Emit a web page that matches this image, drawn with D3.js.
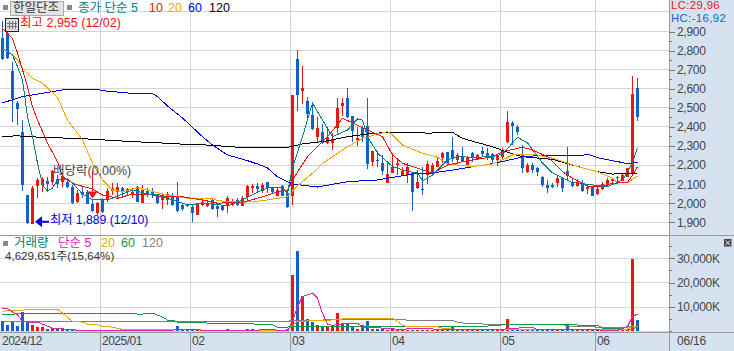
<!DOCTYPE html>
<html lang="ko">
<head>
<meta charset="UTF-8" />
<title>한일단조</title>
<script src="https://d3js.org/d3.v7.min.js"></script>
<style>
  body { margin: 0; padding: 0; background: #fff; overflow: hidden; }
  svg { display: block; }
  text { font-family: "Liberation Sans", "Noto Sans CJK KR", sans-serif; font-size: 12px; }
  .axis text { font-size: 12px; fill: #444; letter-spacing: -0.3px; }
  .axis line { stroke: #777; shape-rendering: crispEdges; }
  .axis path { display: none; }
  .date { letter-spacing: -0.5px; }
  .ma { fill: none; stroke-width: 1; shape-rendering: crispEdges; }
</style>
</head>
<body>
<div id="chart"></div>
<script>
const opens = [
  2868,2893,2693,2525,2375,2043,1889,2092,2095,2116,
  2113,2127,2113,2113,2086,2008,2057,2060,1994,1947,
  2016,2016,2064,2060,2081,2074,2043,2083,1999,2064,
  2065,2043,2016,2016,2043,2034,1990,1990,1981,1938,
  1990,1985,2016,1985,1985,1985,1990,2016,1987,2031,
  2082,2092,2066,2110,2082,2040,2090,2052,2040,2756,
  2589,2536,2463,2349,2372,2314,2318,2393,2512,2550,
  2457,2332,2393,2405,2214,2227,2209,2108,2160,2200,
  2148,2148,2157,2078,2075,2148,2153,2192,2239,2267,
  2279,2227,2246,2200,2262,2232,2274,2262,2257,2227,
  2241,2323,2423,2402,2253,2166,2201,2187,2140,2096,
  2094,2108,2131,2169,2113,2091,2108,2075,2084,2047,
  2073,2096,2117,2136,2119,2140,2157,2603];
const closes = [
  2756,2762,2545,2494,2095,1894,2078,2121,2125,2100,
  2169,2099,2142,2086,1999,2055,2043,1996,1961,1999,
  1955,2064,2081,2086,2057,2060,2060,2008,2069,2048,
  2043,1999,2043,2048,1990,1961,1968,1985,1947,1999,
  2008,2002,1968,1968,1964,2025,2011,1990,2029,2092,
  2092,2073,2096,2082,2061,2069,2040,1979,2568,2568,
  2603,2468,2388,2393,2314,2346,2335,2498,2526,2450,
  2381,2344,2346,2204,2274,2221,2171,2152,2192,2209,
  2169,2188,2061,2110,2069,2204,2200,2221,2262,2206,
  2232,2251,2223,2244,2241,2253,2256,2244,2227,2248,
  2271,2426,2407,2372,2187,2201,2174,2166,2096,2078,
  2087,2131,2078,2143,2092,2113,2066,2084,2040,2075,
  2101,2120,2127,2131,2150,2183,2573,2454];
const highs = [
  2955,2920,2742,2536,2436,2043,2090,2130,2139,2135,
  2174,2148,2156,2130,2095,2069,2086,2069,2016,2008,
  2025,2078,2104,2104,2086,2081,2078,2090,2095,2078,
  2078,2048,2048,2060,2055,2113,1999,1996,1990,2002,
  2016,2016,2025,1999,1990,2037,2020,2030,2037,2096,
  2101,2108,2104,2113,2087,2083,2094,2069,2568,2804,
  2720,2559,2524,2450,2415,2393,2367,2550,2550,2603,
  2457,2398,2405,2550,2274,2274,2253,2209,2265,2235,
  2192,2209,2166,2174,2188,2223,2213,2241,2270,2270,
  2346,2262,2293,2248,2267,2256,2297,2288,2262,2258,
  2288,2484,2431,2410,2306,2209,2209,2192,2143,2122,
  2108,2143,2134,2297,2131,2126,2122,2091,2087,2087,
  2113,2131,2134,2145,2157,2187,2667,2659];
const lows = [
  2750,2755,2427,2410,2065,1889,1889,2029,2060,2069,
  2095,2078,2086,2078,1996,1999,2025,1994,1955,1938,
  1950,2008,2043,2025,2025,2043,2025,2004,1999,2034,
  2025,1996,1968,1990,1985,1955,1961,1978,1903,1938,
  1985,1981,1964,1929,1961,1950,1985,1985,1985,2017,
  2055,2055,2055,2055,2052,2040,2036,1973,1991,2485,
  2520,2445,2384,2314,2311,2311,2279,2367,2457,2445,
  2323,2302,2323,2180,2197,2192,2148,2108,2157,2148,
  2148,2104,1961,2073,2043,2101,2148,2188,2209,2202,
  2218,2206,2223,2200,2218,2227,2248,2227,2209,2195,
  2230,2318,2306,2358,2157,2157,2157,2145,2084,2056,
  2078,2084,2061,2122,2087,2087,2061,2049,2038,2043,
  2070,2092,2101,2101,2117,2136,2148,2433];
const volumes = [
  4370,2730,3690,2320,7920,4370,2730,1640,1640,1090,
  1370,1370,1090,820,820,700,700,700,650,650,
  650,600,600,600,600,600,600,600,1090,600,
  600,600,600,600,600,2050,700,700,650,600,
  600,600,600,600,600,1090,650,600,600,960,
  960,700,700,700,650,700,650,800,23200,33000,
  14600,5200,3800,2730,2050,2050,1640,7650,3400,3400,
  1640,1090,2460,4100,1090,1090,1370,680,960,960,
  650,650,650,650,650,650,650,650,650,650,
  2050,650,650,650,650,650,650,650,650,650,
  650,5200,650,650,650,650,650,650,650,650,
  650,650,650,3140,650,650,650,650,650,650,
  650,650,650,650,650,650,29800,4630];

// moving averages: index along the candles, then value
const ma5Idx = [0,2,3,4,5,6,7,8,9,10,11,13,14,15,16,18,21,24,26,29,31,33,37,41,45,48,51,53,56,57,58,60,62,64,66,69,71,72,73,75,78,81,83,84,86,89,91,94,98,100,102,103,105,108,110,114,118,121,124,126,127];
const ma5Val = [2814,2777,2716,2646,2454,2349,2211,2096,2064,2080,2122,2127,2106,2078,2048,2017,2017,2048,2069,2048,2048,2026,1991,2001,1986,2017,2058,2080,2080,2053,2185,2349,2526,2436,2349,2384,2442,2436,2349,2263,2192,2166,2159,2117,2148,2227,2244,2241,2244,2258,2316,2346,2316,2211,2159,2108,2096,2087,2122,2211,2292];
const ma10Idx = [0,2,3,5,6,7,9,11,12,14,15,18,20,23,26,29,32,35,40,43,48,52,55,57,59,61,65,68,70,73,76,78,80,82,86,89,92,98,100,104,106,109,112,114,117,120,122,125,126,127];
const ma10Val = [2917,2865,2788,2611,2506,2436,2316,2218,2139,2106,2096,2075,2043,2026,2048,2048,2033,2038,2017,2000,2006,2033,2060,2069,2165,2244,2349,2445,2422,2384,2349,2253,2209,2192,2157,2200,2218,2244,2271,2293,2279,2244,2165,2131,2090,2087,2105,2108,2148,2192];
const ma20Idx = [0,2,3,4,6,8,10,11,13,16,18,20,22,24,27,33,37,42,43,48,52,57,59,62,64,69,72,75,77,78,80,84,87,89,94,98,100,102,106,110,115,119,122,123,125,127];
const ma20Val = [2812,2777,2751,2708,2655,2629,2580,2555,2436,2332,2211,2122,2069,2060,2081,2043,2026,2026,2013,2005,2013,2034,2092,2157,2209,2296,2340,2363,2375,2358,2305,2262,2241,2206,2192,2206,2227,2253,2258,2236,2192,2165,2131,2108,2108,2143];
const ma60Idx = [0,4,12,16,19,20,26,30,31,33,36,40,42,45,49,51,53,55,58,63,69,75,82,86,90,98,102,104,108,116,117,119,124,125,127];
const ma60Val = [2526,2559,2594,2597,2597,2590,2576,2574,2559,2510,2447,2349,2305,2253,2223,2206,2185,2138,2101,2085,2113,2122,2153,2159,2174,2208,2230,2244,2251,2251,2257,2239,2213,2207,2215];
const ma120Idx = [0,3,5,8,17,26,31,35,41,48,57,60,64,69,73,77,84,85,87,90,92,98,102,104,110,114,119,122,127];
const ma120Val = [2349,2354,2349,2346,2337,2323,2317,2311,2305,2292,2293,2311,2323,2349,2363,2372,2372,2365,2372,2372,2340,2296,2258,2244,2230,2200,2165,2153,2157];

const vol5Idx = [0,1,2,3,4,5,7,8,10,11,14,15,25,34,35,39,40,48,51,52,54,55,57,58,59,60,62,63,64,65,66,69,71,72,75,76,78,79,80,81,100,101,103,104,106,107,117,123,125,126,127];
const vol5Val = [9560,9290,7920,6830,4100,3820,3820,3000,1370,1090,820,410,410,410,960,960,410,410,410,960,960,410,410,4100,10250,14340,15710,13660,7510,3000,2460,3400,3400,1780,1780,1230,1230,680,680,1090,680,1230,1230,1780,1780,680,680,410,2050,6150,7100];
const vol20Idx = [0,1,4,5,11,12,14,16,17,19,20,22,23,24,26,48,57,58,59,62,67,69,78,79,80,81,87,88,89,90,97,100,101,125,126,127];
const vol20Val = [8200,8600,8600,9150,9150,7510,4100,3820,3000,2730,1910,1780,1230,820,820,410,410,2460,4100,4370,4780,5460,5460,4100,2460,1910,1910,1370,1370,960,680,680,960,960,2050,2050];
const vol60Idx = [0,26,27,28,29,30,32,33,34,35,40,41,48,52,54,55,57,58,97,102,112,115,119,120,123,124,126,127];
const vol60Val = [7100,7510,7100,7100,7510,7510,5870,4640,4640,3820,3820,3410,3410,2730,2730,1780,1780,2050,2190,3000,3000,2600,2600,1370,1370,960,960,1780];
const vol120Idx = [0,57,58,78,80,81,90,91,93,97,112,113,118,119,125,127];
const vol120Val = [4100,4100,4510,5050,5050,4510,4510,3820,3140,3000,3000,2050,2050,1640,1780,2050];

const priceTicks = [1900,2000,2100,2200,2300,2400,2500,2600,2700,2800,2900];
const priceGridTop = 3005;
const priceMinor = [1950,2050,2150,2250,2350,2450,2550,2650,2750,2850];
const volTicks = [10000,20000,30000];
const volMinor = [0,5000,15000,25000,35000];
const dateLabels = ["2024/12","2025/01","02","03","04","05","06"];
const dateIndex = [0,20,38,58,78,100,119];

const width = 734, height = 351;
const plotRight = 669, stripTop = 332;
const RED = "#e8170f", BLUE = "#1560c8";

const svg = d3.select("#chart").append("svg").attr("width", width).attr("height", height);

const x = d3.scaleBand().domain(d3.range(128)).range([0, 640]);
const y = d3.scaleLinear().domain([1900, 2900]).range([222.3, 31.6]);
const yVol = d3.scaleLinear().domain([0, 30000]).range([331.4, 258.3]);

// right hand and bottom strips
svg.append("rect").attr("x", plotRight).attr("y", 0).attr("width", width - plotRight).attr("height", height).attr("fill", "#d6e2f0");
svg.append("rect").attr("x", 0).attr("y", stripTop).attr("width", width).attr("height", height - stripTop).attr("fill", "#d6e2f0");

const grid = svg.append("g").attr("shape-rendering", "crispEdges");
grid.selectAll(".h").data(priceTicks.concat(priceGridTop)).enter().append("line")
  .attr("x1", 0).attr("x2", plotRight)
  .attr("y1", d => y(d)).attr("y2", d => y(d))
  .attr("stroke", "#d4d4d4");
grid.selectAll(".hv").data(volTicks.concat(0)).enter().append("line")
  .attr("x1", 0).attr("x2", plotRight)
  .attr("y1", d => yVol(d)).attr("y2", d => yVol(d))
  .attr("stroke", "#d4d4d4");
grid.selectAll(".v").data(dateIndex.slice(1)).enter().append("line")
  .attr("x1", d => x(d) + 0.5).attr("x2", d => x(d) + 0.5)
  .attr("y1", 0).attr("y2", stripTop)
  .attr("stroke", "#d4d4d4");
grid.selectAll(".vs").data(dateIndex.slice(1)).enter().append("line")
  .attr("x1", d => x(d) + 0.5).attr("x2", d => x(d) + 0.5)
  .attr("y1", stripTop).attr("y2", height)
  .attr("stroke", "#999");
grid.append("line").attr("x1", 0).attr("x2", width).attr("y1", 235.5).attr("y2", 235.5).attr("stroke", "#999");
grid.append("line").attr("x1", 0).attr("x2", width).attr("y1", stripTop + 0.5).attr("y2", stripTop + 0.5).attr("stroke", "#999");
grid.append("line").attr("x1", plotRight + 0.5).attr("x2", plotRight + 0.5).attr("y1", 0).attr("y2", height).attr("stroke", "#999");

const candleColor = i => (closes[i] >= opens[i] ? RED : BLUE);

// volume bars
svg.append("g").attr("shape-rendering", "crispEdges")
  .selectAll("rect").data(volumes).enter().append("rect")
  .attr("x", (d, i) => x(i) + 1)
  .attr("width", 3)
  .attr("y", d => yVol(d))
  .attr("height", d => yVol(0) - yVol(d))
  .attr("fill", (d, i) => candleColor(i));

// candles
const candles = svg.append("g").attr("shape-rendering", "crispEdges");
candles.selectAll(".wick").data(highs).enter().append("rect")
  .attr("x", (d, i) => x(i) + 2)
  .attr("width", 1)
  .attr("y", d => y(d))
  .attr("height", (d, i) => y(lows[i]) - y(d))
  .attr("fill", (d, i) => candleColor(i));
candles.selectAll(".body").data(opens).enter().append("rect")
  .attr("x", (d, i) => x(i) + 1)
  .attr("width", 3)
  .attr("y", (d, i) => y(Math.max(d, closes[i])))
  .attr("height", (d, i) => Math.max(1, Math.abs(y(d) - y(closes[i]))))
  .attr("fill", (d, i) => candleColor(i));

function drawLine(idx, val, scale, color, w) {
  const line = d3.line().x((d, i) => x(idx[i]) + 2.5).y(d => scale(d));
  svg.append("path").datum(val).attr("class", "ma")
    .attr("d", line).attr("stroke", color).attr("stroke-width", w || 1);
}

drawLine(ma120Idx, ma120Val, y, "#000", 1.3);
drawLine(ma60Idx, ma60Val, y, "#0000e6", 1.3);
drawLine(ma20Idx, ma20Val, y, "#f0a800");
drawLine(ma10Idx, ma10Val, y, "#f01010");
drawLine(ma5Idx, ma5Val, y, "#008080");

drawLine(vol120Idx, vol120Val, yVol, "#808080", 1.3);
drawLine(vol60Idx, vol60Val, yVol, "#109a40", 1.3);
drawLine(vol20Idx, vol20Val, yVol, "#e8a800", 1.3);
drawLine(vol5Idx, vol5Val, yVol, "#e020b0", 1.3);

// 배당락 marker, 최저 arrow
const markX = x(18) + 2.5;
svg.append("line").attr("x1", markX).attr("x2", markX).attr("y1", y(2170)).attr("y2", y(2065)).attr("stroke", RED).attr("shape-rendering", "crispEdges");
svg.append("path").attr("fill", RED)
  .attr("d", `M${markX - 5},${y(2062)}H${markX + 5}L${markX},${y(2025)}Z`);
const arrowX = x(7);
svg.append("path").attr("fill", "#0000e6")
  .attr("d", `M${arrowX},${y(1903)}l7,-5.5v4.5h7v2h-7v4.5Z`);

function label(text, tx, ty, color, size) {
  return svg.append("text").attr("x", tx).attr("y", ty).attr("dominant-baseline", "middle")
    .attr("fill", color).style("font-size", (size || 12) + "px").text(text);
}

// price panel header
svg.append("rect").attr("x", 3).attr("y", 5).attr("width", 5).attr("height", 5).attr("fill", "#888");
svg.append("rect").attr("x", 10.5).attr("y", 1.5).attr("width", 53).attr("height", 14).attr("fill", "#e4e4e4").attr("stroke", "#aaa");
label("한일단조", 13, 9, "#333", 12.5);
svg.append("rect").attr("x", 67).attr("y", 5).attr("width", 5).attr("height", 5).attr("fill", "#888");
label("종가 단순 5", 78, 9, "#008080", 12.5);
label("10", 149, 9, "#f01010", 12.5);
label("20", 168, 9, "#f0a800", 12.5);
label("60", 188, 9, "#0000e6", 12.5);
label("120", 209, 9, "#000", 12.5);

// small table icon
const icon = svg.append("g").attr("shape-rendering", "crispEdges");
icon.append("rect").attr("x", 5.5).attr("y", 18.5).attr("width", 13).attr("height", 13).attr("fill", "#ddd").attr("stroke", "#222");
[9, 12, 15].forEach(d => icon.append("line").attr("x1", d + 0.5).attr("x2", d + 0.5).attr("y1", 21).attr("y2", 29).attr("stroke", "#777"));
[23, 26].forEach(d => icon.append("line").attr("x1", 7).attr("x2", 17).attr("y1", d + 0.5).attr("y2", d + 0.5).attr("stroke", "#777"));

label("최고 2,955 (12/02)", 20, 23.5, "#f01010", 12.5);
label("최저 1,889 (12/10)", 50, 221, "#0000e6", 12.2);
label("배당락(0,00%)", 53, 171.5, "#444", 12.5);

// volume panel header
svg.append("rect").attr("x", 3).attr("y", 241).attr("width", 5).attr("height", 5).attr("fill", "#888");
label("거래량", 14, 244, "#008080", 12.5);
label("단순 5", 58, 244, "#e020b0", 12.5);
label("20", 101, 244, "#e8a800", 12.5);
label("60", 121, 244, "#109a40", 12.5);
label("120", 142, 244, "#808080", 12.5);
label("4,629,651주(15,64%)", 5, 257, "#333", 11.6);

// axes
svg.append("g").attr("class", "axis").attr("transform", `translate(${plotRight},0)`)
  .call(d3.axisRight(y).tickValues(priceTicks).tickSize(6).tickPadding(2).tickFormat(d3.format(",")));
svg.append("g").attr("class", "axis").attr("transform", `translate(${plotRight},0)`)
  .call(d3.axisRight(y).tickValues(priceMinor).tickSize(3).tickFormat(""));
svg.append("g").attr("class", "axis").attr("transform", `translate(${plotRight},0)`)
  .call(d3.axisRight(yVol).tickValues(volTicks).tickSize(6).tickPadding(2).tickFormat(d => d3.format(",")(d) + "K"));
svg.append("g").attr("class", "axis").attr("transform", `translate(${plotRight},0)`)
  .call(d3.axisRight(yVol).tickValues(volMinor).tickSize(3).tickFormat(""));

// LC / HC box sits over the top of the axis
svg.append("rect").attr("x", plotRight + 1).attr("y", 0).attr("width", width - plotRight - 1).attr("height", 26).attr("fill", "#d6e2f0");
label("LC:29,96", 671, 6.5, "#f01010", 11.3).style("letter-spacing", "0.4px");
label("HC:-16,92", 671, 19.5, "#1560c8", 11.3).style("letter-spacing", "0.4px");

// date labels
svg.selectAll(".date").data(dateLabels).enter().append("text")
  .attr("class", "date")
  .attr("x", (d, i) => x(dateIndex[i]) + 2)
  .attr("y", 341.5)
  .attr("dominant-baseline", "middle")
  .attr("fill", "#444")
  .text(d => d);
label("06/16", 677, 341.5, "#444").style("letter-spacing", "-0.2px");

// panel button, volume panel
svg.append("rect").attr("x", 724).attr("y", 239).attr("width", 7.5).attr("height", 7.5).attr("fill", "#444");
svg.append("path").attr("d", "M725.5,240.5l4.5,4.5m0,-4.5l-4.5,4.5").attr("stroke", "#fff").attr("fill", "none");
</script>
</body>
</html>
